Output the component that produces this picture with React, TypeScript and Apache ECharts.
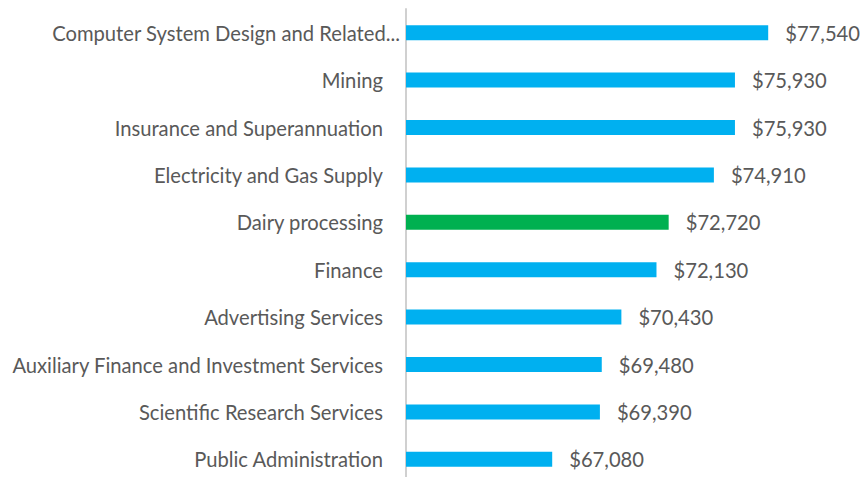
import React, { useEffect, useRef } from "react";
import * as echarts from "echarts";

const categories = [
  "Computer System Design and Related...",
  "Mining",
  "Insurance and Superannuation",
  "Electricity and Gas Supply",
  "Dairy processing",
  "Finance",
  "Advertising Services",
  "Auxiliary Finance and Investment Services",
  "Scientific Research Services",
  "Public Administration",
];
const salaries = [77540, 75930, 75930, 74910, 72720, 72130, 70430, 69480, 69390, 67080];
const highlighted = "Dairy processing";

const BLUE = "#00B0F0";
const GREEN = "#00B050";
const TEXT = "#595959";
const FONT = "Lato, 'Open Sans', sans-serif";

export default function App() {
  const ref = useRef<HTMLDivElement>(null);
  useEffect(() => {
    if (!ref.current) return;
    const chart = echarts.init(ref.current, undefined, { renderer: "svg" });
    chart.setOption({
      animation: false,
      grid: { left: 406, top: 9, width: 413, height: 474, containLabel: false },
      xAxis: {
        type: "value",
        min: 60000,
        max: 80000,
        show: false,
      },
      yAxis: {
        type: "category",
        inverse: true,
        data: categories.map((c, i) =>
          i === 0 ? { value: c, textStyle: { padding: [0, -17, 0, 0] } } : c
        ),
        axisLine: { show: true, lineStyle: { color: "#D0D0D0", width: 2 } },
        axisTick: { show: false },
        axisLabel: { color: TEXT, fontFamily: FONT, fontSize: 20.2, margin: 23 },
      },
      series: [
        {
          type: "bar",
          barWidth: 15,
          data: salaries.map((v, i) => ({
            value: v,
            itemStyle: { color: categories[i] === highlighted ? GREEN : BLUE },
          })),
          label: {
            show: true,
            position: "right",
            distance: 17,
            color: TEXT,
            fontFamily: FONT,
            fontSize: 20.2,
            formatter: (p: any) => "$" + Number(p.value).toLocaleString("en-US"),
          },
        },
      ],
    });
    return () => chart.dispose();
  }, []);
  return (
    <div style={{ position: "absolute", left: 0, top: 0, width: 863, height: 477, overflow: "hidden" }}>
      <div ref={ref} style={{ width: 863, height: 500 }} />
    </div>
  );
}
